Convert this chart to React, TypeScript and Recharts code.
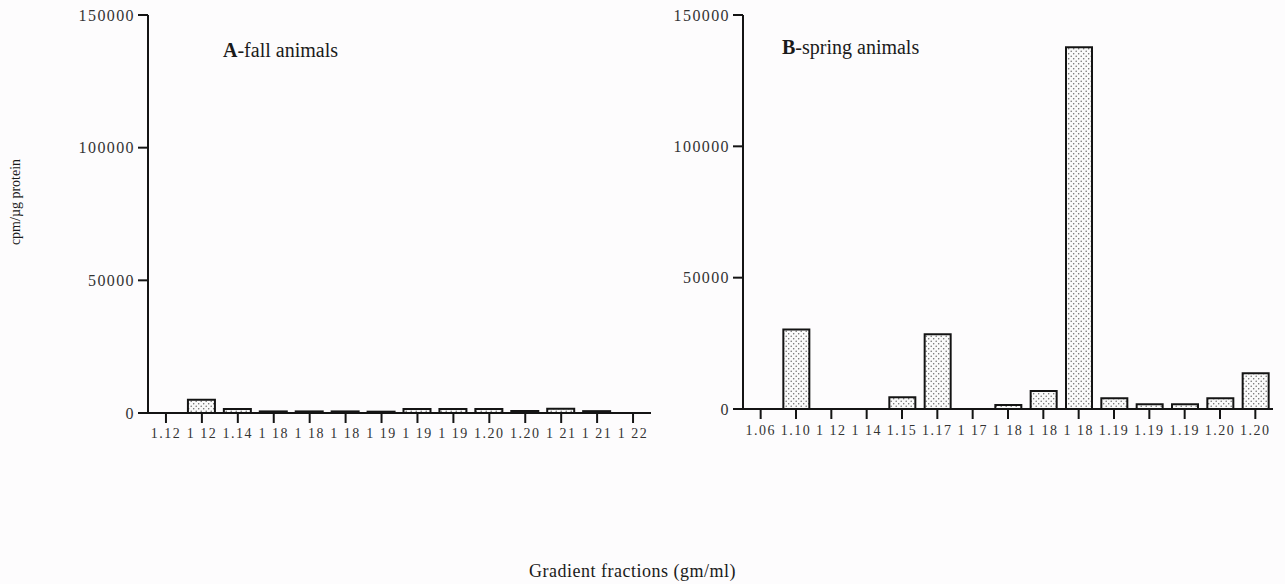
import React from 'react';
import { Bar, BarChart, XAxis, YAxis } from 'recharts';

// fall animals (panel A)
const fallLabels = ['1.12', '1 12', '1.14', '1 18', '1 18', '1 18', '1 19', '1 19', '1 19', '1.20', '1.20', '1 21', '1 21', '1 22'];
const fallValues = [0, 5000, 1500, 600, 600, 600, 500, 1500, 1500, 1500, 800, 1600, 700, 0];

// spring animals (panel B)
const springLabels = ['1.06', '1.10', '1 12', '1 14', '1.15', '1.17', '1 17', '1 18', '1 18', '1 18', '1.19', '1.19', '1.19', '1.20', '1.20'];
const springValues = [0, 30300, 0, 0, 4500, 28500, 0, 1500, 6900, 137700, 4100, 1800, 1800, 4100, 13600];

const yTicks = [0, 50000, 100000, 150000];

const FONT = '"Liberation Serif", "Times New Roman", serif';
const INK = '#141414';

const fallData = fallLabels.map((label, i) => ({ id: `a${i}`, label, v: fallValues[i] }));
const springData = springLabels.map((label, i) => ({ id: `b${i}`, label, v: springValues[i] }));

function Dots({ id }: { id: string }) {
  return (
    <defs>
      <pattern id={id} width={5} height={5} patternUnits="userSpaceOnUse">
        <rect width={5} height={5} fill="#fbfbfb" />
        <circle cx={1.2} cy={1.2} r={0.75} fill="#6a6a6a" />
        <circle cx={3.7} cy={3.7} r={0.75} fill="#6a6a6a" />
      </pattern>
    </defs>
  );
}

type PanelProps = {
  data: { id: string; label: string; v: number }[];
  labels: string[];
  width: number;
  yWidth: number;
  right: number;
  bottom: number;
  barSize: number;
  pat: string;
  labelGap: number;
};

function Panel({ data, labels, width, yWidth, right, bottom, barSize, pat, labelGap }: PanelProps) {
  return (
    <BarChart width={width} height={470} data={data} margin={{ top: 15, right, left: 0, bottom }} barCategoryGap={0}>
      <Dots id={pat} />
      <XAxis
        dataKey="id"
        interval={0}
        height={40}
        tickSize={10}
        tickMargin={labelGap}
        axisLine={{ stroke: INK, strokeWidth: 2 }}
        tickLine={{ stroke: INK, strokeWidth: 2 }}
        tick={{ fontSize: 14, fill: '#333', fontFamily: FONT, letterSpacing: 1.5 }}
        tickFormatter={(_v: string, i: number) => labels[i]}
      />
      <YAxis
        width={yWidth}
        domain={[0, 150000]}
        ticks={yTicks}
        interval={0}
        tickSize={10}
        tickMargin={3}
        axisLine={{ stroke: INK, strokeWidth: 2 }}
        tickLine={{ stroke: INK, strokeWidth: 2 }}
        tick={{ fontSize: 16, fill: '#333', fontFamily: FONT, letterSpacing: 1.4 }}
      />
      <Bar dataKey="v" barSize={barSize} fill={`url(#${pat})`} stroke={INK} strokeWidth={2} isAnimationActive={false} />
    </BarChart>
  );
}

export default function App() {
  return (
    <div style={{ position: 'relative', width: 1285, height: 584, background: '#fdfcfd', fontFamily: FONT, color: '#1a1a1a', overflow: 'hidden' }}>
      <style>{`body{margin:0}`}</style>
      <div style={{ position: 'absolute', left: 0, top: 0 }}>
        <Panel data={fallData} labels={fallLabels} width={680} yWidth={148} right={29} bottom={17} barSize={27} pat="dotsA" labelGap={5} />
      </div>
      <div style={{ position: 'absolute', left: 660, top: 0 }}>
        <Panel data={springData} labels={springLabels} width={625} yWidth={83} right={12} bottom={21} barSize={26} pat="dotsB" labelGap={6} />
      </div>
      <div style={{ position: 'absolute', left: 223, top: 40, fontSize: 20, lineHeight: '20px', whiteSpace: 'nowrap' }}>
        <b>A</b>-fall animals
      </div>
      <div style={{ position: 'absolute', left: 782, top: 37, fontSize: 20, lineHeight: '20px', whiteSpace: 'nowrap' }}>
        <b>B</b>-spring animals
      </div>
      <div
        style={{
          position: 'absolute',
          left: 16,
          top: 202,
          fontSize: 14,
          lineHeight: '14px',
          whiteSpace: 'nowrap',
          transform: 'translate(-50%, -50%) rotate(-90deg)',
        }}
      >
        cpm/µg protein
      </div>
      <div style={{ position: 'absolute', left: 529, top: 562, fontSize: 18, lineHeight: '18px', letterSpacing: 0.5, whiteSpace: 'nowrap' }}>
        Gradient fractions (gm/ml)
      </div>
    </div>
  );
}
